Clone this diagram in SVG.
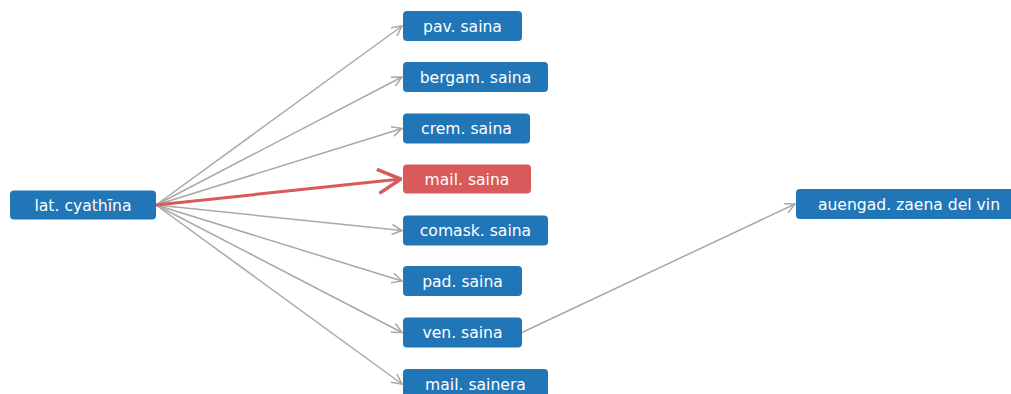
<svg xmlns="http://www.w3.org/2000/svg" width="1011" height="394" viewBox="0 0 1011 394">
<style>
.n rect{fill:#2176b8;}
.n.r rect{fill:#d85a5a;}
.n text{fill:#fff;font-family:"DejaVu Sans",Verdana,sans-serif;font-size:15.6px;text-anchor:middle;}
.e{stroke:#a8a8a8;stroke-width:1.5;fill:none;marker-end:url(#ag);}
.e.r{stroke:#d85a5a;stroke-width:3;marker-end:url(#ar);}
</style>
<defs>
<marker id="ag" markerUnits="userSpaceOnUse" viewBox="0 0 12 12" refX="11" refY="6" markerWidth="12" markerHeight="12" orient="auto">
<path d="M1,1 L11,6 L1,11" fill="none" stroke="#a8a8a8" stroke-width="1.5"/>
</marker>
<marker id="ar" markerUnits="userSpaceOnUse" viewBox="0 0 26 28" refX="25" refY="14" markerWidth="26" markerHeight="28" orient="auto">
<path d="M2,2 L25,14 L2,26" fill="none" stroke="#d85a5a" stroke-width="3.5"/>
</marker>
</defs>
<rect width="1011" height="394" fill="#fff"/>
<g id="edges">
<path class="e" d="M156,205 L402,26"/>
<path class="e" d="M156,205 L402,77"/>
<path class="e" d="M156,205 L402,128.5"/>
<path class="e" d="M156,205 L402,230.5"/>
<path class="e" d="M156,205 L402,281"/>
<path class="e" d="M156,205 L402,332.5"/>
<path class="e" d="M156,205 L402,384"/>
<path class="e" d="M522,332.5 L795,204"/>
<path class="e r" d="M156,205 L401,179"/>
</g>
<g id="n-lat" class="n"><rect x="10" y="190.5" width="146" height="29" rx="4"/><text x="83" y="210.5">lat. cyathīna</text></g>
<g id="n-pav" class="n"><rect x="403" y="11" width="119" height="30" rx="4"/><text x="462.5" y="31.5">pav. saina</text></g>
<g id="n-bergam" class="n"><rect x="403" y="62" width="145" height="30" rx="4"/><text x="475.5" y="82.5">bergam. saina</text></g>
<g id="n-crem" class="n"><rect x="403" y="113.5" width="127" height="30" rx="4"/><text x="466.5" y="134">crem. saina</text></g>
<g id="n-mail" class="n r"><rect x="403" y="164.5" width="128" height="29" rx="4"/><text x="467" y="184.5">mail. saina</text></g>
<g id="n-comask" class="n"><rect x="403" y="215.5" width="145" height="30" rx="4"/><text x="475.5" y="236">comask. saina</text></g>
<g id="n-pad" class="n"><rect x="403" y="266" width="119" height="30" rx="4"/><text x="462.5" y="286.5">pad. saina</text></g>
<g id="n-ven" class="n"><rect x="403" y="317.5" width="119" height="30" rx="4"/><text x="462.5" y="338">ven. saina</text></g>
<g id="n-sainera" class="n"><rect x="403" y="369" width="145" height="30" rx="4"/><text x="475.5" y="389.5">mail. sainera</text></g>
<g id="n-auengad" class="n"><rect x="796" y="189" width="228" height="30" rx="4"/><text x="909" y="209.5">auengad. zaena del vin</text></g>
</svg>
